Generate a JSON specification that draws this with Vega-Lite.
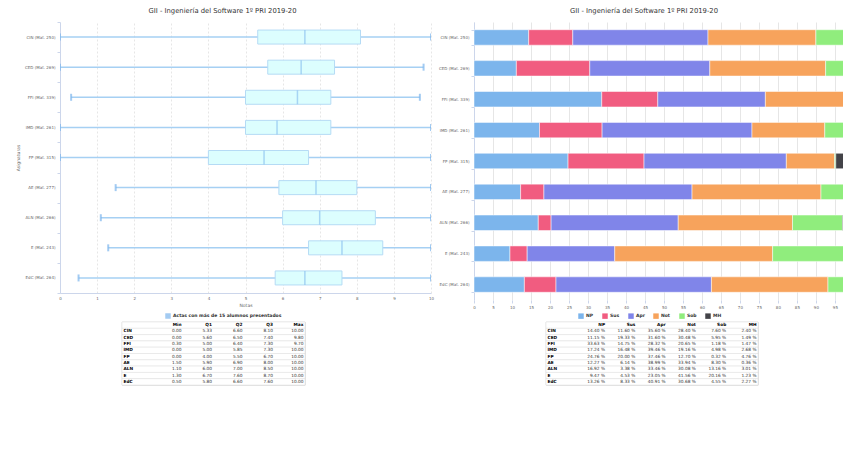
{
  "$schema": "https://vega.github.io/schema/vega-lite/v6.json",
  "background": "white",
  "padding": {"left": 15, "top": 8, "right": 0, "bottom": 0},
  "config": {
    "font": "DejaVu Sans",
    "view": {"stroke": null},
    "axis": {
      "labelFont": "DejaVu Sans", "labelColor": "#666666", "labelFontSize": 4,
      "titleFont": "DejaVu Sans", "titleColor": "#666666", "titleFontSize": 4.5, "titleFontWeight": "normal",
      "domainColor": "#ccd6eb", "tickColor": "#ccd6eb", "gridColor": "#e6e6e6", "labelOverlap": false
    },
    "legend": {
      "labelFont": "DejaVu Sans", "labelFontSize": 4.5, "labelFontWeight": "bold", "labelColor": "#333333",
      "symbolType": "square", "symbolSize": 30, "symbolStrokeWidth": 0, "labelOffset": 2, "padding": 0, "title": null
    },
    "title": {"font": "DejaVu Sans", "fontSize": 6.8, "fontWeight": "normal", "color": "#333333", "anchor": "middle", "offset": 5}
  },
  "datasets": {
    "box": [
      {"asig": "CIN", "label": "CIN (Mat. 250)", "Min": 0.00, "Q1": 5.33, "Q2": 6.60, "Q3": 8.10, "Max": 10.00},
      {"asig": "CED", "label": "CED (Mat. 269)", "Min": 0.00, "Q1": 5.60, "Q2": 6.50, "Q3": 7.40, "Max": 9.80},
      {"asig": "FFI", "label": "FFI (Mat. 339)", "Min": 0.30, "Q1": 5.00, "Q2": 6.40, "Q3": 7.30, "Max": 9.70},
      {"asig": "IMD", "label": "IMD (Mat. 261)", "Min": 0.00, "Q1": 5.00, "Q2": 5.85, "Q3": 7.30, "Max": 10.00},
      {"asig": "FP", "label": "FP (Mat. 315)", "Min": 0.00, "Q1": 4.00, "Q2": 5.50, "Q3": 6.70, "Max": 10.00},
      {"asig": "AE", "label": "AE (Mat. 277)", "Min": 1.50, "Q1": 5.90, "Q2": 6.90, "Q3": 8.00, "Max": 10.00},
      {"asig": "ALN", "label": "ALN (Mat. 266)", "Min": 1.10, "Q1": 6.00, "Q2": 7.00, "Q3": 8.50, "Max": 10.00},
      {"asig": "E", "label": "E (Mat. 243)", "Min": 1.30, "Q1": 6.70, "Q2": 7.60, "Q3": 8.70, "Max": 10.00},
      {"asig": "EdC", "label": "EdC (Mat. 264)", "Min": 0.50, "Q1": 5.80, "Q2": 6.60, "Q3": 7.60, "Max": 10.00}
    ],
    "notas": [
      {"asig": "CIN", "label": "CIN (Mat. 250)", "NP": 14.40, "Sus": 11.60, "Apr": 35.60, "Not": 28.40, "Sob": 7.60, "MH": 2.40},
      {"asig": "CED", "label": "CED (Mat. 269)", "NP": 11.15, "Sus": 19.33, "Apr": 31.60, "Not": 30.48, "Sob": 5.95, "MH": 1.49},
      {"asig": "FFI", "label": "FFI (Mat. 339)", "NP": 33.63, "Sus": 14.75, "Apr": 28.32, "Not": 20.65, "Sob": 1.18, "MH": 1.47},
      {"asig": "IMD", "label": "IMD (Mat. 261)", "NP": 17.24, "Sus": 16.48, "Apr": 39.46, "Not": 19.16, "Sob": 4.98, "MH": 2.68},
      {"asig": "FP", "label": "FP (Mat. 315)", "NP": 24.76, "Sus": 20.00, "Apr": 37.46, "Not": 12.70, "Sob": 0.32, "MH": 4.76},
      {"asig": "AE", "label": "AE (Mat. 277)", "NP": 12.27, "Sus": 6.14, "Apr": 38.99, "Not": 33.94, "Sob": 8.30, "MH": 0.36},
      {"asig": "ALN", "label": "ALN (Mat. 266)", "NP": 16.92, "Sus": 3.38, "Apr": 33.46, "Not": 30.08, "Sob": 13.16, "MH": 3.01},
      {"asig": "E", "label": "E (Mat. 243)", "NP": 9.47, "Sus": 4.53, "Apr": 23.05, "Not": 41.56, "Sob": 20.16, "MH": 1.23},
      {"asig": "EdC", "label": "EdC (Mat. 264)", "NP": 13.26, "Sus": 8.33, "Apr": 40.91, "Not": 30.68, "Sob": 4.55, "MH": 2.27}
    ],
    "cats": [
      {"cat": "NP", "orden": 1}, {"cat": "Sus", "orden": 2}, {"cat": "Apr", "orden": 3},
      {"cat": "Not", "orden": 4}, {"cat": "Sob", "orden": 5}, {"cat": "MH", "orden": 6}
    ]
  },
  "resolve": {"scale": {"color": "independent"}, "legend": {"color": "independent"}},
  "spacing": 4,
  "hconcat": [
    {
      "bounds": "flush",
      "spacing": 29,
      "vconcat": [
        {
          "width": 371,
          "height": 271,
          "title": {"text": "GII - Ingeniería del Software 1º PRI 2019-20", "dx": -23},
          "data": {"name": "box"},
          "encoding": {
            "y": {"field": "label", "type": "nominal", "sort": null,
              "scale": {"paddingInner": 0, "paddingOuter": 0},
              "axis": {"title": "Asignaturas", "tickBand": "extent", "tickSize": 3, "labelPadding": 2, "titlePadding": 4}}
          },
          "layer": [
            {
              "mark": {"type": "rule", "color": "#a6d0f3", "strokeWidth": 1.5},
              "encoding": {
                "x": {"field": "Min", "type": "quantitative", "scale": {"domain": [0, 10], "nice": false},
                  "axis": {"title": "Notas", "grid": true, "gridDash": [2, 2], "values": [0,1,2,3,4,5,6,7,8,9,10], "tickSize": 0, "labelPadding": 3, "titlePadding": 2, "labelFlush": false}},
                "x2": {"field": "Max"}
              }
            },
            {
              "mark": {"type": "bar", "fill": "#dcfefe", "stroke": "#b5dbf5", "strokeWidth": 1, "size": 14},
              "encoding": {
                "x": {"field": "Q1", "type": "quantitative",
                  "axis": {"title": "Notas", "grid": true, "gridDash": [2, 2], "values": [0,1,2,3,4,5,6,7,8,9,10], "tickSize": 0, "labelPadding": 3, "titlePadding": 2, "labelFlush": false}},
                "x2": {"field": "Q3"}
              }
            },
            {
              "mark": {"type": "tick", "orient": "vertical", "color": "#8fc3ef", "size": 14, "thickness": 1.5},
              "encoding": {"x": {"field": "Q2", "type": "quantitative",
                "axis": {"title": "Notas", "grid": true, "gridDash": [2, 2], "values": [0,1,2,3,4,5,6,7,8,9,10], "tickSize": 0, "labelPadding": 3, "titlePadding": 2, "labelFlush": false}}}
            },
            {
              "mark": {"type": "tick", "orient": "vertical", "size": 7, "thickness": 2, "clip": true},
              "encoding": {
                "x": {"field": "Min", "type": "quantitative",
                  "axis": {"title": "Notas", "grid": true, "gridDash": [2, 2], "values": [0,1,2,3,4,5,6,7,8,9,10], "tickSize": 0, "labelPadding": 3, "titlePadding": 2, "labelFlush": false}},
                "color": {"datum": "Actas con más de 15 alumnos presentados", "type": "nominal",
                  "scale": {"range": ["#7cb5ec"]},
                  "legend": {"orient": "none", "legendX": 105, "legendY": 291}}
              }
            },
            {
              "mark": {"type": "tick", "orient": "vertical", "size": 7, "thickness": 2, "color": "#7cb5ec", "clip": true},
              "encoding": {"x": {"field": "Max", "type": "quantitative",
                "axis": {"title": "Notas", "grid": true, "gridDash": [2, 2], "values": [0,1,2,3,4,5,6,7,8,9,10], "tickSize": 0, "labelPadding": 3, "titlePadding": 2, "labelFlush": false}}}
            }
          ]
        },
        {
          "bounds": "flush",
          "spacing": 10,
          "hconcat": [
            {"width": 52, "height": 10, "data": {"values": []}, "mark": "point"},
            {
              "width": 183,
              "height": 63,
              "view": {"stroke": "#c8c8c8", "strokeWidth": 0.7},
              "layer": [
                {
                  "data": {"values": [{"r": "hdr"}, {"r": "CIN"}, {"r": "CED"}, {"r": "FFI"}, {"r": "IMD"}, {"r": "FP"}, {"r": "AE"}, {"r": "ALN"}, {"r": "E"}, {"r": "EdC"}]},
                  "mark": {"type": "rect", "fill": "white", "stroke": "#dddddd", "strokeWidth": 0.5},
                  "encoding": {
                    "y": {"field": "r", "type": "nominal", "sort": null,
                      "scale": {"type": "band", "domain": ["hdr", "CIN", "CED", "FFI", "IMD", "FP", "AE", "ALN", "E", "EdC"], "paddingInner": 0, "paddingOuter": 0},
                      "axis": null},
                    "x": {"value": 0},
                    "x2": {"value": "width"}
                  }
                },
                {
                  "data": {"name": "box"},
                  "mark": {"type": "text", "align": "left", "baseline": "middle", "fontWeight": "bold", "fontSize": 4.3, "dx": 1.5, "color": "#000000"},
                  "encoding": {
                    "y": {"field": "asig", "type": "nominal", "sort": null},
                    "x": {"datum": "name", "type": "nominal", "bandPosition": 0,
                      "scale": {"type": "band", "domain": ["name", "Min", "Q1", "Q2", "Q3", "Max"], "paddingInner": 0, "paddingOuter": 0},
                      "axis": null},
                    "text": {"field": "asig"}
                  }
                },
                {
                  "data": {"name": "box"},
                  "transform": [{"fold": ["Min", "Q1", "Q2", "Q3", "Max"], "as": ["col", "val"]}],
                  "mark": {"type": "text", "align": "right", "baseline": "middle", "fontSize": 4.3, "dx": -1.5, "color": "#333333"},
                  "encoding": {
                    "y": {"field": "asig", "type": "nominal", "sort": null},
                    "x": {"field": "col", "type": "nominal", "bandPosition": 1},
                    "text": {"field": "val", "type": "quantitative", "format": ".2f"}
                  }
                },
                {
                  "data": {"values": [{"col": "Min"}, {"col": "Q1"}, {"col": "Q2"}, {"col": "Q3"}, {"col": "Max"}]},
                  "mark": {"type": "text", "align": "right", "baseline": "middle", "fontSize": 4.3, "fontWeight": "bold", "dx": -1.5, "color": "#000000"},
                  "encoding": {
                    "y": {"datum": "hdr", "type": "nominal"},
                    "x": {"field": "col", "type": "nominal", "bandPosition": 1},
                    "text": {"field": "col"}
                  }
                }
              ]
            }
          ]
        }
      ]
    },
    {
      "bounds": "flush",
      "spacing": 22,
      "vconcat": [
        {
          "width": 370,
          "height": 278,
          "title": {"text": "GII - Ingeniería del Software 1º PRI 2019-20", "dx": -15},
          "data": {"name": "notas"},
          "transform": [
            {"fold": ["NP", "Sus", "Apr", "Not", "Sob", "MH"], "as": ["cat", "pct"]},
            {"lookup": "cat", "from": {"data": {"name": "cats"}, "key": "cat", "fields": ["orden"]}}
          ],
          "mark": {"type": "bar", "stroke": "white", "strokeWidth": 0.5, "clip": true},
          "encoding": {
            "y": {"field": "label", "type": "nominal", "sort": null,
              "scale": {"paddingInner": 0.5, "paddingOuter": 0.25},
              "axis": {"title": null, "tickBand": "extent", "tickSize": 3, "labelPadding": 2}},
            "x": {"field": "pct", "type": "quantitative", "stack": "zero",
              "scale": {"domain": [0, 97.4], "nice": false},
              "axis": {"title": null, "values": [0,5,10,15,20,25,30,35,40,45,50,55,60,65,70,75,80,85,90,95], "grid": true, "tickSize": 3, "labelPadding": 2, "domain": false, "labelFlush": false}},
            "order": {"field": "orden", "type": "quantitative"},
            "color": {"field": "cat", "type": "nominal",
              "scale": {"domain": ["NP", "Sus", "Apr", "Not", "Sob", "MH"], "range": ["#7cb5ec", "#f15c80", "#8085e9", "#f7a35c", "#90ed7d", "#434348"]},
              "legend": {"orient": "none", "legendX": 104, "legendY": 291, "direction": "horizontal", "columnPadding": 8}}
          }
        },
        {
          "bounds": "flush",
          "spacing": 10,
          "hconcat": [
            {"width": 62, "height": 10, "data": {"values": []}, "mark": "point"},
            {
              "width": 212,
              "height": 63,
              "view": {"stroke": "#c8c8c8", "strokeWidth": 0.7},
              "layer": [
                {
                  "data": {"values": [{"r": "hdr"}, {"r": "CIN"}, {"r": "CED"}, {"r": "FFI"}, {"r": "IMD"}, {"r": "FP"}, {"r": "AE"}, {"r": "ALN"}, {"r": "E"}, {"r": "EdC"}]},
                  "mark": {"type": "rect", "fill": "white", "stroke": "#dddddd", "strokeWidth": 0.5},
                  "encoding": {
                    "y": {"field": "r", "type": "nominal", "sort": null,
                      "scale": {"type": "band", "domain": ["hdr", "CIN", "CED", "FFI", "IMD", "FP", "AE", "ALN", "E", "EdC"], "paddingInner": 0, "paddingOuter": 0},
                      "axis": null},
                    "x": {"value": 0},
                    "x2": {"value": "width"}
                  }
                },
                {
                  "data": {"name": "notas"},
                  "mark": {"type": "text", "align": "left", "baseline": "middle", "fontWeight": "bold", "fontSize": 4.3, "dx": 1.5, "color": "#000000"},
                  "encoding": {
                    "y": {"field": "asig", "type": "nominal", "sort": null},
                    "x": {"datum": "name", "type": "nominal", "bandPosition": 0,
                      "scale": {"type": "band", "domain": ["name", "NP", "Sus", "Apr", "Not", "Sob", "MH"], "paddingInner": 0, "paddingOuter": 0},
                      "axis": null},
                    "text": {"field": "asig"}
                  }
                },
                {
                  "data": {"name": "notas"},
                  "transform": [{"fold": ["NP", "Sus", "Apr", "Not", "Sob", "MH"], "as": ["col", "val"]}],
                  "mark": {"type": "text", "align": "right", "baseline": "middle", "fontSize": 4.3, "dx": -7, "color": "#333333"},
                  "encoding": {
                    "y": {"field": "asig", "type": "nominal", "sort": null},
                    "x": {"field": "col", "type": "nominal", "bandPosition": 1},
                    "text": {"field": "val", "type": "quantitative", "format": ".2f"}
                  }
                },
                {
                  "data": {"name": "notas"},
                  "transform": [{"fold": ["NP", "Sus", "Apr", "Not", "Sob", "MH"], "as": ["col", "val"]}],
                  "mark": {"type": "text", "align": "right", "baseline": "middle", "fontSize": 4.3, "dx": -1.5, "color": "#333333"},
                  "encoding": {
                    "y": {"field": "asig", "type": "nominal", "sort": null},
                    "x": {"field": "col", "type": "nominal", "bandPosition": 1},
                    "text": {"value": "%"}
                  }
                },
                {
                  "data": {"values": [{"col": "NP"}, {"col": "Sus"}, {"col": "Apr"}, {"col": "Not"}, {"col": "Sob"}, {"col": "MH"}]},
                  "mark": {"type": "text", "align": "right", "baseline": "middle", "fontSize": 4.3, "fontWeight": "bold", "dx": -1.5, "color": "#000000"},
                  "encoding": {
                    "y": {"datum": "hdr", "type": "nominal"},
                    "x": {"field": "col", "type": "nominal", "bandPosition": 1},
                    "text": {"field": "col"}
                  }
                }
              ]
            }
          ]
        }
      ]
    }
  ]
}
